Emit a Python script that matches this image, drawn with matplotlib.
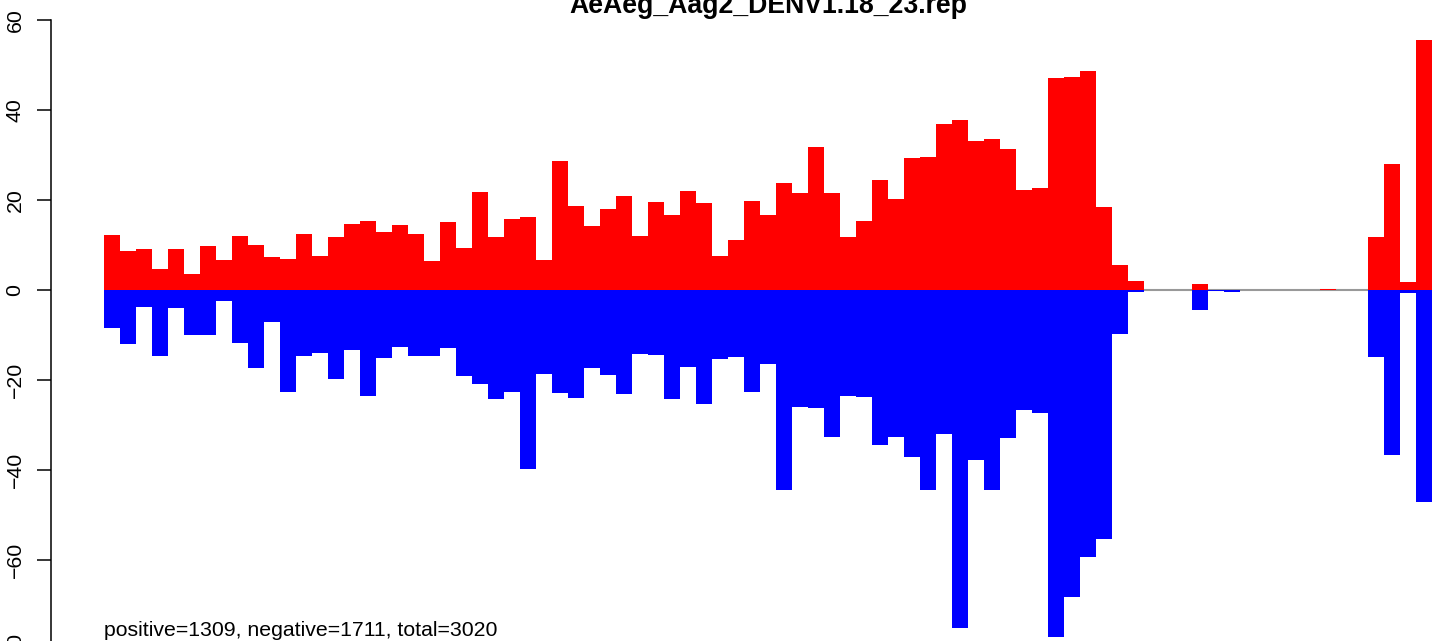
import matplotlib
matplotlib.use("Agg")
import matplotlib.pyplot as plt
import numpy as np

plt.rcParams['font.family'] = ['Liberation Sans', 'DejaVu Sans']

title = "AeAeg_Aag2_DENV1.18_23.rep"
summary = "positive=1309, negative=1711, total=3020"

positive = [12.2, 8.7, 9.1, 4.7, 9.1, 3.6, 9.8, 6.7, 12.0, 10.0, 7.3, 6.9, 12.4, 7.6,
            11.8, 14.7, 15.3, 12.9, 14.4, 12.4, 6.4, 15.1, 9.3, 21.8,
            11.8, 15.8, 16.2, 6.7, 28.7, 18.7, 14.2, 18.0, 20.9, 12.0, 19.6, 16.7,
            22.0, 19.3, 7.6, 11.1, 19.8, 16.7, 23.8, 21.6, 31.8, 21.6, 11.8, 15.3,
            24.4, 20.2, 29.3, 29.6, 36.9, 37.8,
            33.1, 33.6, 31.3, 22.2, 22.7, 47.1, 47.3, 48.7, 18.4, 5.6, 2.0,
            0, 0, 0, 1.3, 0, 0, 0, 0, 0, 0, 0, 0.2, 0, 0,
            11.8, 28.0, 1.8, 55.6]

negative = [8.4, 11.9, 3.8, 14.7, 4.0, 10.0, 10.0, 2.4, 11.8, 17.3, 7.1, 22.7, 14.7, 14.0,
            19.8, 13.3, 23.6, 15.1, 12.7, 14.7, 14.7, 12.9, 19.1, 20.9,
            24.2, 22.7, 39.8, 18.7, 22.9, 24.0, 17.3, 18.9, 23.1, 14.2, 14.4, 24.2,
            17.1, 25.3, 15.3, 14.9, 22.7, 16.4, 44.4, 26.0, 26.2, 32.7, 23.6, 23.8,
            34.4, 32.7, 37.1, 44.4, 32.0, 75.1,
            37.8, 44.4, 32.9, 26.7, 27.3, 77.1, 68.2, 59.3, 55.3, 9.8, 0.4,
            0, 0, 0, 4.4, 0.2, 0.4, 0, 0, 0, 0, 0, 0, 0, 0,
            14.9, 36.7, 0.7, 47.1]

yticks = [-80, -60, -40, -20, 0, 20, 40, 60]

W, H = 1441, 641
fig = plt.figure(figsize=(W / 100, H / 100), dpi=100)
ax_left, ax_right = 51, 1441
ax_top, ax_bot = 20, 650
ax = fig.add_axes([ax_left / W, 1 - ax_bot / H, (ax_right - ax_left) / W, (ax_bot - ax_top) / H])

n = len(positive)
x = np.arange(n)
bar_px = 16.0
a = -(104 - ax_left) / bar_px
b = a + (ax_right - ax_left) / bar_px
ax.set_xlim(a, b)
ax.set_ylim(-80, 60)

ax.hlines(0, 0, n, color='#999999', lw=1.5, zorder=1)
ax.bar(x, positive, width=1.0, align='edge', color='#ff0000', linewidth=0, zorder=2)
ax.bar(x, [-v for v in negative], width=1.0, align='edge', color='#0000ff', linewidth=0, zorder=2)

for s in ['top', 'right', 'bottom']:
    ax.spines[s].set_visible(False)
ax.spines['left'].set_bounds(-80, 60)
ax.spines['left'].set_linewidth(1.1)
ax.set_xticks([])
ax.set_yticks(yticks)
ax.set_yticklabels([str(t).replace('-', '\u2212') for t in yticks], rotation=90,
                   va='center', fontsize=15.3)
ax.tick_params(axis='y', length=10, width=1.1, pad=9)
ax.patch.set_alpha(0)

fig.text(768 / W, 1 - 13 / H, title, ha='center', va='baseline',
         fontsize=19.2, fontweight='bold')
fig.text(104 / W, 1 - 636 / H, summary, ha='left', va='baseline', fontsize=15.3)

fig.savefig("out.png", dpi=100)
